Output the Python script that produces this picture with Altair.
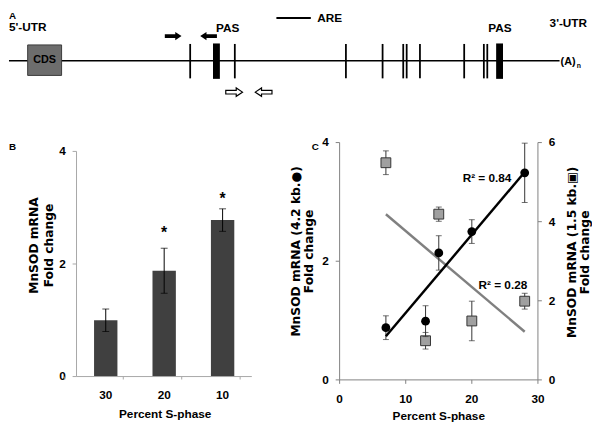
import altair as alt
import pandas as pd

FONT = "Liberation Sans, Arial, Helvetica, sans-serif"
TFONT = "DejaVu Sans, Liberation Sans, sans-serif"

# ---------------- Panel A: MnSOD mRNA map (diagram units) ----------------
track = [8, 568, 57]                       # start, end, level
cds = [27, 61.5, 41, 72]                   # x1, x2, y1, y2
are_pos = [192.3, 237.7, 350.7, 388, 409, 412.5, 426, 471, 491, 494.5]
are_span = [40, 75]
pas_pos = [219, 507]
pas_span = [39.5, 75.5]
primer_dir_filled = ["right", "left"]
primer_x_filled = [175, 211]
primer_y_filled = [32, 32]
primer_dir_open = ["right", "left"]
primer_x_open = [237, 267]
primer_y_open = [89, 89]
are_legend = [280, 315, 13.7]

lab_left_text = ["A", "5'-UTR", "ARE", "(A)", "B", "C"]
lab_left_x = [8, 8, 321.5, 569, 8, 316]
lab_left_y = [15, 27, 18, 61, 148, 148]
lab_left_size = [10, 12, 12, 11, 10, 10]

# ---------------- Panel B ----------------
b_cats = ["30", "20", "10"]
b_vals = [1.00, 1.88, 2.78]
b_errs = [0.20, 0.40, 0.20]
b_star_cats = ["20", "10"]
b_star_y = [2.55, 3.16]
b_yticks = [0, 2, 4]
b_title_y = ["MnSOD mRNA", "Fold change"]
x_title = "Percent S-phase"

# ---------------- Panel C ----------------
c_x = [7, 13, 15, 20, 28]
c_long = [0.88, 0.99, 2.14, 2.50, 3.49]      # 4.2 kb, left axis
c_long_err = [0.20, 0.26, 0.29, 0.20, 0.50]
c_short = [5.49, 0.99, 4.19, 1.49, 1.99]     # 1.5 kb, right axis
c_short_err = [0.30, 0.21, 0.18, 0.50, 0.20]
r2_long = ["R² = 0.84", 22.3, 3.40]
r2_short = ["R² = 0.28", 24.7, 2.39]
c_xticks = [0, 10, 20, 30]
c_lticks = [0, 2, 4]
c_rticks = [0, 2, 4, 6]
c_ltitle = ["MnSOD mRNA (4.2 kb.●)", "Fold change"]
c_rtitle = ["MnSOD mRNA (1.5 kb.▣)", "Fold change"]

RIGHT = "M -1 -0.22 L 0.25 -0.22 L 0.25 -0.5 L 1 0 L 0.25 0.5 L 0.25 0.22 L -1 0.22 Z"
LEFT = "M 1 -0.22 L -0.25 -0.22 L -0.25 -0.5 L -1 0 L -0.25 0.5 L -0.25 0.22 L 1 0.22 Z"
PATHS = {"right": RIGHT, "left": LEFT}

# whole plot area: screen x 8..600, y 8..381.7
W, H = 592, 373.7
GB = "#a6a6a6"
GC = "#808080"


def df1(**kw):
    return pd.DataFrame({k: (v if isinstance(v, list) else [v]) for k, v in kw.items()})


def label(data, x, y, size=12, font=FONT, **kw):
    return alt.Chart(data).mark_text(font=font, fontWeight="bold", color="black", fontSize=size, **kw).encode(
        x=x, y=y, text="t:N")


# ===== Panel A =====
XA = alt.Scale(domain=[8, 600], range=[0, W], nice=False, zero=False)
YA = alt.Scale(domain=[8, 8 + H], range=[0, H], nice=False, zero=False)


def xa(f):
    return alt.X(f, type="quantitative", scale=XA, axis=None)


def ya(f):
    return alt.Y(f, type="quantitative", scale=YA, axis=None)


a_track = alt.Chart(df1(x=track[0], x2=track[1], y=track[2])).mark_rule(
    color="black", strokeWidth=1.5).encode(x=xa("x"), x2="x2:Q", y=ya("y"))
a_are = alt.Chart(df1(x=are_pos, y=[are_span[0]] * len(are_pos), y2=[are_span[1]] * len(are_pos))).mark_rule(
    color="black", strokeWidth=1.8).encode(x=xa("x"), y=ya("y"), y2="y2:Q")
a_pas = alt.Chart(df1(x=pas_pos, y=[pas_span[0]] * 2, y2=[pas_span[1]] * 2)).mark_rule(
    color="black", strokeWidth=7).encode(x=xa("x"), y=ya("y"), y2="y2:Q")
a_cds = alt.Chart(df1(x=cds[0], x2=cds[1], y=cds[2], y2=cds[3])).mark_rect(
    fill="#6d6d6d", stroke="#3a3a3a", strokeWidth=1).encode(x=xa("x"), x2="x2:Q", y=ya("y"), y2="y2:Q")
a_cds_t = label(df1(x=(cds[0] + cds[1]) / 2, y=(cds[2] + cds[3]) / 2, t="CDS"), xa("x"), ya("y"),
                size=11, baseline="middle")
a_arr_f = alt.Chart(df1(x=primer_x_filled, y=primer_y_filled,
                        s=[PATHS[d] for d in primer_dir_filled])).mark_point(
    filled=True, color="black", opacity=1, size=289, strokeWidth=0).encode(
    x=xa("x"), y=ya("y"), shape=alt.Shape("s:N", scale=None))
a_arr_o = alt.Chart(df1(x=primer_x_open, y=primer_y_open, s=[PATHS[d] for d in primer_dir_open])).mark_point(
    filled=False, fill="white", stroke="black", strokeWidth=1.2, opacity=1, size=289).encode(
    x=xa("x"), y=ya("y"), shape=alt.Shape("s:N", scale=None))
a_leg = alt.Chart(df1(x=are_legend[0], x2=are_legend[1], y=are_legend[2])).mark_rule(
    color="black", strokeWidth=2).encode(x=xa("x"), x2="x2:Q", y=ya("y"))

a_texts = [label(df1(x=x, y=y, t=t), xa("x"), ya("y"), size=s, align="left", baseline="alphabetic")
           for t, x, y, s in zip(lab_left_text, lab_left_x, lab_left_y, lab_left_size)]
a_sub = label(df1(x=585.5, y=64, t="n"), xa("x"), ya("y"), size=7, align="left", baseline="alphabetic")
a_pas_t = label(df1(x=[230.5, 507.4], y=[28, 28], t=["PAS", "PAS"]), xa("x"), ya("y"), align="center",
                baseline="alphabetic")
a_utr3 = label(df1(x=596, y=23, t="3'-UTR"), xa("x"), ya("y"), align="right", baseline="alphabetic")

panelA = alt.layer(a_track, a_cds, a_are, a_pas, a_leg, a_arr_f, a_arr_o, a_cds_t, a_pas_t, a_utr3, a_sub,
                   *a_texts)

# ===== Panel B =====
B_LEFT, B_RIGHT, B_BASE, B_TOP = 68.7, 247, 370.3, 141.3
YBs = alt.Scale(domain=[0, 4], range=[B_BASE, B_TOP], nice=False, zero=False)
XBs = alt.Scale(domain=b_cats, range=[B_LEFT, B_RIGHT], paddingInner=0.6, paddingOuter=0.3)
STEP = (B_RIGHT - B_LEFT) / len(b_cats)
dfB = pd.DataFrame({"cat": b_cats, "val": b_vals,
                    "lo": [v - e for v, e in zip(b_vals, b_errs)],
                    "hi": [v + e for v, e in zip(b_vals, b_errs)]})
xcat = alt.X("cat:N", sort=b_cats, axis=None)

b_bars = alt.Chart(dfB).mark_bar(color="#404040").encode(
    x=alt.X("cat:N", sort=b_cats, scale=XBs, axis=None),
    y=alt.Y("val:Q", scale=YBs, axis=None), y2=alt.datum(0))
b_err = alt.Chart(dfB).mark_rule(color="black", strokeWidth=1).encode(
    x=xcat, y=alt.Y("lo:Q", axis=None), y2="hi:Q")
b_caps = alt.Chart(dfB).transform_fold(["lo", "hi"], as_=["k", "v"]).mark_tick(
    color="black", thickness=1, size=7, orient="horizontal").encode(x=xcat, y=alt.Y("v:Q", axis=None))
b_stars = label(df1(cat=b_star_cats, y=b_star_y, t=["*"] * 2), xcat, alt.Y("y:Q", axis=None), size=16,
                baseline="middle")
# manual axes
b_yline = alt.Chart(df1(a=b_yticks[0], b=b_yticks[-1])).mark_rule(color=GB).encode(
    x=alt.value(B_LEFT), y=alt.Y("a:Q", axis=None), y2="b:Q")
b_ytick = alt.Chart(df1(v=b_yticks)).mark_rule(color=GB).encode(
    x=alt.value(B_LEFT - 4), x2=alt.value(B_LEFT), y=alt.Y("v:Q", axis=None))
b_ylab = label(df1(v=b_yticks, t=[str(v) for v in b_yticks]), alt.value(B_LEFT - 11), alt.Y("v:Q", axis=None),
               align="right", baseline="middle")
b_xline = alt.Chart(df1(a=0)).mark_rule(color=GB).encode(
    x=alt.value(B_LEFT), x2=alt.value(B_RIGHT), y=alt.value(B_BASE))
b_xtick = alt.Chart(df1(cat=b_cats + [b_cats[-1]], o=[-STEP / 2] * len(b_cats) + [STEP / 2])).mark_rule(
    color=GB).encode(x=xcat, xOffset=alt.XOffset("o:Q", scale=None), y=alt.value(B_BASE),
                     y2=alt.value(B_BASE + 3))
b_xlab = label(df1(cat=b_cats, t=b_cats), xcat, alt.value(389.4), baseline="middle")
b_xtitle = label(df1(t=x_title), alt.value((B_LEFT + B_RIGHT) / 2 + 1), alt.value(408.7), baseline="middle")
b_ytitle = [label(df1(t=t), alt.value(xx), alt.value(237), size=12.5, font=TFONT, angle=270, baseline="middle")
            for t, xx in zip(b_title_y, [26, 40.5])]
panelB = alt.layer(b_bars, b_err, b_caps, b_stars, b_yline, b_ytick, b_ylab, b_xline, b_xtick, b_xlab,
                   b_xtitle, *b_ytitle)

# ===== Panel C =====
C_LEFT, C_RIGHT, C_TOP = 336.3, 538, 132.3
XCs = alt.Scale(domain=[0, 30], range=[C_LEFT, C_RIGHT], nice=False, zero=False)
YLs = alt.Scale(domain=[0, 4], range=[H, C_TOP], nice=False, zero=False)
YRs = alt.Scale(domain=[0, 6], range=[H, C_TOP], nice=False, zero=False)
dfL = pd.DataFrame({"x": c_x, "y": c_long,
                    "lo": [v - e for v, e in zip(c_long, c_long_err)],
                    "hi": [v + e for v, e in zip(c_long, c_long_err)]})
dfR = pd.DataFrame({"x": c_x, "y": c_short,
                    "lo": [v - e for v, e in zip(c_short, c_short_err)],
                    "hi": [v + e for v, e in zip(c_short, c_short_err)]})
xq = alt.X("x:Q", axis=None)


def group(df, yscale, mark_pt, line_color, r2):
    err = alt.Chart(df).mark_rule(color="#333333", strokeWidth=1).encode(
        x=alt.X("x:Q", scale=XCs, axis=None), y=alt.Y("lo:Q", scale=yscale, axis=None), y2="hi:Q")
    caps = alt.Chart(df).transform_fold(["lo", "hi"], as_=["k", "v"]).mark_tick(
        color="#333333", thickness=1, size=6, orient="horizontal").encode(x=xq, y=alt.Y("v:Q", axis=None))
    line = alt.Chart(df).transform_regression("x", "y").mark_line(color=line_color, strokeWidth=2.5).encode(
        x=xq, y=alt.Y("y:Q", axis=None))
    pts = mark_pt(alt.Chart(df)).encode(x=xq, y=alt.Y("y:Q", axis=None))
    lab = label(df1(x=r2[1], y=r2[2], t=r2[0]), xq, alt.Y("y:Q", axis=None), baseline="middle")
    return [err, caps, line, pts, lab]


# left axis + x axis (left group)
c_xline = alt.Chart(df1(a=c_xticks[0], b=c_xticks[-1])).mark_rule(color=GC).encode(
    x=alt.X("a:Q", axis=None), x2="b:Q", y=alt.value(H))
c_xtick = alt.Chart(df1(x=c_xticks)).mark_rule(color=GC).encode(x=xq, y=alt.value(H), y2=alt.value(H + 4))
c_xlab = label(df1(x=c_xticks, t=[str(v) for v in c_xticks]), xq, alt.value(392.7), baseline="middle")
c_xtitle = label(df1(t=x_title), alt.value((C_LEFT + C_RIGHT) / 2), alt.value(410.7), baseline="middle")
c_lline = alt.Chart(df1(a=c_lticks[0], b=c_lticks[-1])).mark_rule(color=GC).encode(
    x=alt.value(C_LEFT), y=alt.Y("a:Q", axis=None), y2="b:Q")
c_ltick = alt.Chart(df1(v=c_lticks)).mark_rule(color=GC).encode(
    x=alt.value(C_LEFT - 4), x2=alt.value(C_LEFT), y=alt.Y("v:Q", axis=None))
c_llab = label(df1(v=c_lticks, t=[str(v) for v in c_lticks]), alt.value(C_LEFT - 11), alt.Y("v:Q", axis=None),
               align="right", baseline="middle")
c_ltitle_m = [label(df1(t=t), alt.value(xx), alt.value(243), size=12.5, font=TFONT, angle=270, baseline="middle")
              for t, xx in zip(c_ltitle, [292.5, 305.5])]
# right axis (right group)
c_rline = alt.Chart(df1(a=c_rticks[0], b=c_rticks[-1])).mark_rule(color=GC).encode(
    x=alt.value(C_RIGHT), y=alt.Y("a:Q", axis=None), y2="b:Q")
c_rtick = alt.Chart(df1(v=c_rticks)).mark_rule(color=GC).encode(
    x=alt.value(C_RIGHT), x2=alt.value(C_RIGHT + 4), y=alt.Y("v:Q", axis=None))
c_rlab = label(df1(v=c_rticks, t=[str(v) for v in c_rticks]), alt.value(C_RIGHT + 11), alt.Y("v:Q", axis=None),
               align="left", baseline="middle")
c_rtitle_m = [label(df1(t=t), alt.value(xx), alt.value(244), size=12.5, font=TFONT, angle=270, baseline="middle")
              for t, xx in zip(c_rtitle, [573, 586])]

cRight = alt.layer(*group(dfR, YRs,
                          lambda c: c.mark_square(size=100, fill="#a0a0a0", stroke="#333333", strokeWidth=1,
                                                  opacity=1), "#808080", r2_short),
                   c_rline, c_rtick, c_rlab, *c_rtitle_m)
cLeft = alt.layer(*group(dfL, YLs, lambda c: c.mark_circle(size=80, color="black", opacity=1), "black", r2_long),
                  c_xline, c_xtick, c_xlab, c_xtitle, c_lline, c_ltick, c_llab, *c_ltitle_m)

chart = alt.layer(panelA, panelB, cRight, cLeft).resolve_scale(
    x="independent", y="independent").properties(width=W, height=H, padding=0).configure_view(strokeWidth=0)

chart.save("out.html", embed_options={"renderer": "svg", "actions": False})
